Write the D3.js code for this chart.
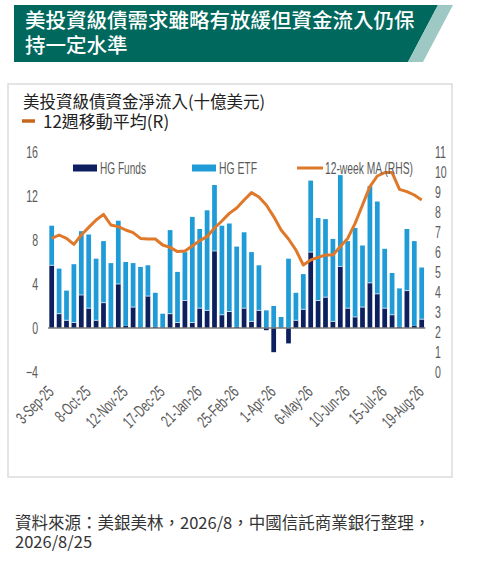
<!DOCTYPE html>
<html lang="zh-Hant-TW">
<head>
<meta charset="utf-8">
<script src="https://cdn.jsdelivr.net/npm/d3@7"></script>
<style>
  html, body { margin: 0; padding: 0; background: #fff; }
  svg { display: block; }
  .cjk { font-family: "Noto Sans CJK TC", "Noto Sans CJK SC", sans-serif; }
  .inner text { font-family: "Liberation Sans", "DejaVu Sans", sans-serif; fill: #5a5a5a; }
</style>
</head>
<body>
<svg id="chart" width="480" height="562" lang="zh-Hant-TW"></svg>
<script>
'use strict';

// weekly flows, bn USD, 3-Sep-25 .. 19-Aug-26
var funds = [5.7, 1.3, 0.7, 0.5, 3.0, 1.8, 0.7, 2.3, 0.1, 4.0,
             0.2, 1.9, 0.05, 2.9, 0.1, 0.0, 1.3, 0.5, 2.5, 0.5,
             1.8, 1.6, 7.0, 1.2, 1.5, 0.1, 1.8, 0.6, 1.6, -0.2,
             -2.2, 0.0, -1.4, 0.7, 1.7, 6.9, 2.5, 2.8, 0.6, 5.6,
             1.8, 1.0, 1.9, 4.1, 3.1, 1.8, 1.2, 0.1, 3.4, 0.2, 0.8];
var etf = [3.6, 4.1, 2.7, 5.3, 5.8, 6.7, 5.6, 5.6, 5.8, 5.75,
           5.8, 4.0, 5.5, 2.8, 3.1, 1.3, 7.6, 4.6, 4.4, 9.6,
           7.2, 9.1, 6.0, 8.1, 8.0, 7.3, 6.9, 6.3, 4.1, 1.6,
           2.0, 1.0, 6.3, 2.5, 3.2, 6.5, 7.5, 7.1, 7.5, 8.3,
           6.1, 8.1, 5.6, 8.8, 8.4, 5.4, 3.8, 3.5, 5.6, 7.7, 4.7];
var ma12 = [6.68, 6.85, 6.68, 6.38, 6.85, 7.23, 7.6, 7.88, 7.35, 7.27,
            7.1, 6.97, 6.68, 6.65, 6.65, 6.35, 6.23, 6.02, 6.05, 6.3,
            6.57, 6.77, 7.2, 7.55, 7.93, 8.2, 8.6, 8.97, 8.75, 8.35,
            7.77, 7.1, 6.65, 6.1, 5.35, 5.6, 5.73, 5.85, 5.85, 6.27,
            6.68, 7.43, 8.35, 9.27, 9.8, 9.97, 9.97, 9.13, 9.02, 8.85, 8.6];
var tickLabels = ['3-Sep-25', '8-Oct-25', '12-Nov-25', '17-Dec-25', '21-Jan-26', '25-Feb-26',
                  '1-Apr-26', '6-May-26', '10-Jun-26', '15-Jul-26', '19-Aug-26'];
var leftTicks = [-4, 0, 4, 8, 12, 16];
var rightTicks = d3.range(0, 12);

var titleLines = ['美投資級債需求雖略有放緩但資金流入仍保', '持一定水準'];
var subTitle = '美投資級債資金淨流入(十億美元)';
var maLabel = '12週移動平均(R)';
var sourceLines = ['資料來源：美銀美林，2026/8，中國信託商業銀行整理，', '2026/8/25'];

var colors = { funds: '#0c1f5e', etf: '#1f9bd7', ma: '#e0782a' };
var squeeze = 0.64;   // the source chart uses a very condensed face

var svg = d3.select('#chart');

// ---- header banner
svg.append('path')
    .attr('d', 'M14,5 L438,5 L408,62 L14,62 Z')
    .attr('fill', '#00685c');
svg.append('path')
    .attr('d', 'M438,5 L453,5 L423,62 L408,62 Z')
    .attr('fill', '#9dc8c3');
svg.selectAll('text.title')
    .data(titleLines)
    .enter().append('text')
    .attr('class', 'title cjk')
    .attr('x', 25)
    .attr('y', function (d, i) { return 28 + i * 25; })
    .attr('fill', '#fff')
    .attr('font-size', 20.5)
    .attr('font-weight', 500)
    .text(function (d) { return d; });

// ---- chart frame
svg.append('rect')
    .attr('x', 8).attr('y', 84)
    .attr('width', 444).attr('height', 393)
    .attr('fill', 'none')
    .attr('stroke', '#dcdcdc')
    .attr('stroke-width', 1.5);

svg.append('text')
    .attr('class', 'cjk')
    .attr('x', 23).attr('y', 107.5)
    .attr('font-size', 16.5)
    .attr('fill', '#222')
    .text(subTitle);
svg.append('line')
    .attr('x1', 22).attr('x2', 35)
    .attr('y1', 121).attr('y2', 121)
    .attr('stroke', '#c8661e')
    .attr('stroke-width', 3.5);
svg.append('text')
    .attr('class', 'cjk')
    .attr('x', 43).attr('y', 127.5)
    .attr('font-size', 17)
    .attr('fill', '#222')
    .text(maLabel);

// ---- inner chart
var g = svg.append('g').attr('class', 'inner');

var x = d3.scaleBand()
    .domain(d3.range(funds.length))
    .range([48, 425.4])
    .paddingInner(0.36)
    .paddingOuter(0.18);
var y = d3.scaleLinear().domain([-4, 16]).range([372, 152]);
var yR = d3.scaleLinear().domain([0, 11]).range([372, 152]);

var rows = funds.map(function (f, i) { return { i: i, funds: f, etf: etf[i] }; });
var series = d3.stack()
    .keys(['funds', 'etf'])
    .offset(d3.stackOffsetDiverging)(rows);

g.selectAll('g.series')
    .data(series)
    .enter().append('g')
    .attr('class', 'series')
    .attr('fill', function (d) { return colors[d.key]; })
    .selectAll('rect')
    .data(function (d) { return d; })
    .enter().append('rect')
    .attr('x', function (d) { return x(d.data.i); })
    .attr('width', x.bandwidth())
    .attr('y', function (d) { return y(Math.max(d[0], d[1])); })
    .attr('height', function (d) { return Math.abs(y(d[0]) - y(d[1])); });

// thin pale seam between the two stacked parts
g.selectAll('line.seam')
    .data(rows.filter(function (d) { return d.funds > 0.3; }))
    .enter().append('line')
    .attr('x1', function (d) { return x(d.i); })
    .attr('x2', function (d) { return x(d.i) + x.bandwidth(); })
    .attr('y1', function (d) { return y(d.funds); })
    .attr('y2', function (d) { return y(d.funds); })
    .attr('stroke', '#d8eef9')
    .attr('stroke-width', 0.8);

// zero line
g.append('line')
    .attr('x1', 48).attr('x2', 425.4)
    .attr('y1', y(0)).attr('y2', y(0))
    .attr('stroke', '#7a7a7a')
    .attr('stroke-width', 1.5);

// 12-week MA on right axis
var line = d3.line()
    .x(function (d, i) { return x(i) + x.bandwidth() / 2; })
    .y(function (d) { return yR(d); });
g.append('path')
    .datum(ma12)
    .attr('d', line)
    .attr('fill', 'none')
    .attr('stroke', colors.ma)
    .attr('stroke-width', 3)
    .attr('stroke-linejoin', 'round');

// axes (labels squeezed horizontally)
var axL = g.append('g')
    .attr('transform', 'translate(38,0)')
    .call(d3.axisLeft(y).tickValues(leftTicks).tickSize(0).tickPadding(0));
var axR = g.append('g')
    .attr('transform', 'translate(435,0)')
    .call(d3.axisRight(yR).tickValues(rightTicks).tickSize(0).tickPadding(0));
[axL, axR].forEach(function (ax) {
    ax.select('.domain').remove();
    ax.selectAll('text')
        .attr('x', 0)
        .attr('font-size', 16.5)
        .attr('fill', '#5a5a5a')
        .attr('transform', 'scale(' + squeeze + ',1)')
        .style('font-family', null);
});

var labelIdx = tickLabels.map(function (d, k) { return k * 5; });
g.selectAll('text.xlab')
    .data(labelIdx)
    .enter().append('text')
    .attr('class', 'xlab')
    .attr('text-anchor', 'end')
    .attr('font-size', 17)
    .attr('transform', function (d) {
        return 'translate(' + (x(d) + x.bandwidth() / 2 + 3) + ',393) rotate(-45) scale(' + squeeze + ',1)';
    })
    .text(function (d, k) { return tickLabels[k]; });

// legend
var legend = [
    { label: 'HG Funds', type: 'rect', color: colors.funds, x: 73, w: 46 },
    { label: 'HG ETF', type: 'rect', color: colors.etf, x: 192, w: 38 },
    { label: '12-week MA (RHS)', type: 'line', color: colors.ma, x: 297, w: 88 }
];
var lg = g.selectAll('g.legend')
    .data(legend)
    .enter().append('g')
    .attr('class', 'legend')
    .attr('transform', function (d) { return 'translate(' + d.x + ',168)'; });
lg.filter(function (d) { return d.type === 'rect'; })
    .append('rect')
    .attr('x', 0).attr('y', -3.5)
    .attr('width', 24).attr('height', 7)
    .attr('fill', function (d) { return d.color; });
lg.filter(function (d) { return d.type === 'line'; })
    .append('line')
    .attr('x1', 0).attr('x2', 26)
    .attr('y1', 0).attr('y2', 0)
    .attr('stroke', function (d) { return d.color; })
    .attr('stroke-width', 3);
lg.append('text')
    .attr('x', function (d) { return d.type === 'line' ? 28 : 27; })
    .attr('y', 6)
    .attr('font-size', 16)
    .attr('textLength', function (d) { return d.w; })
    .attr('lengthAdjust', 'spacingAndGlyphs')
    .text(function (d) { return d.label; });

// ---- source note
svg.selectAll('text.src')
    .data(sourceLines)
    .enter().append('text')
    .attr('class', 'src cjk')
    .attr('x', 15)
    .attr('y', function (d, i) { return 529 + i * 18.5; })
    .attr('font-size', 16.5)
    .attr('fill', '#333')
    .text(function (d) { return d; });
</script>
</body>
</html>
